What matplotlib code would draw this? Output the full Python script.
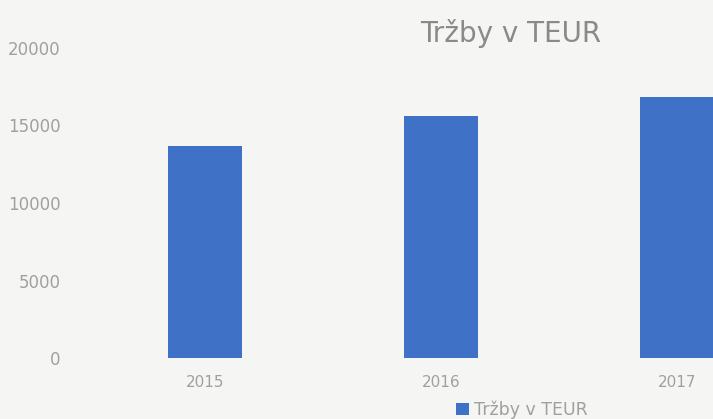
import matplotlib.pyplot as plt
import numpy as np

years = ['2015', '2016', '2017']
sales = [13700, 15600, 16850]
series_name = 'Tržby v TEUR'
y_ticks = [0, 5000, 10000, 15000, 20000]

bar_color = '#3f72c6'
text_color = '#a0a0a0'
bg = '#f5f5f3'

fig = plt.figure(figsize=(7.13, 4.19), dpi=100, facecolor=bg)
ax = fig.add_axes([87/713, 61/419, 1 - 87/713, 310/419])
ax.set_facecolor(bg)

x = np.arange(len(years))
ax.bar(x, sales, width=0.314, color=bar_color, label=series_name)

ax.set_xlim(-0.5, 2 + 36/236)
ax.set_ylim(0, 20000)
ax.set_xticks(x)
ax.set_xticklabels(years)
ax.set_yticks(y_ticks)
ax.tick_params(colors=text_color, labelsize=11, length=0, pad=12)
ax.tick_params(axis='y', labelsize=12, pad=19)
for s in ax.spines.values():
    s.set_visible(False)

fig.text(511/713, 1 - 33/419, series_name, ha='center', va='center',
         fontsize=20, color='#8a8a8a')
ax.legend(loc='center', bbox_to_anchor=(522/713, 9/419), bbox_transform=fig.transFigure,
          frameon=False, fontsize=12.5, labelcolor=text_color, handlelength=0.7,
          handleheight=0.7, handletextpad=0.3)

fig.savefig('out.png', dpi=100, facecolor=bg)
